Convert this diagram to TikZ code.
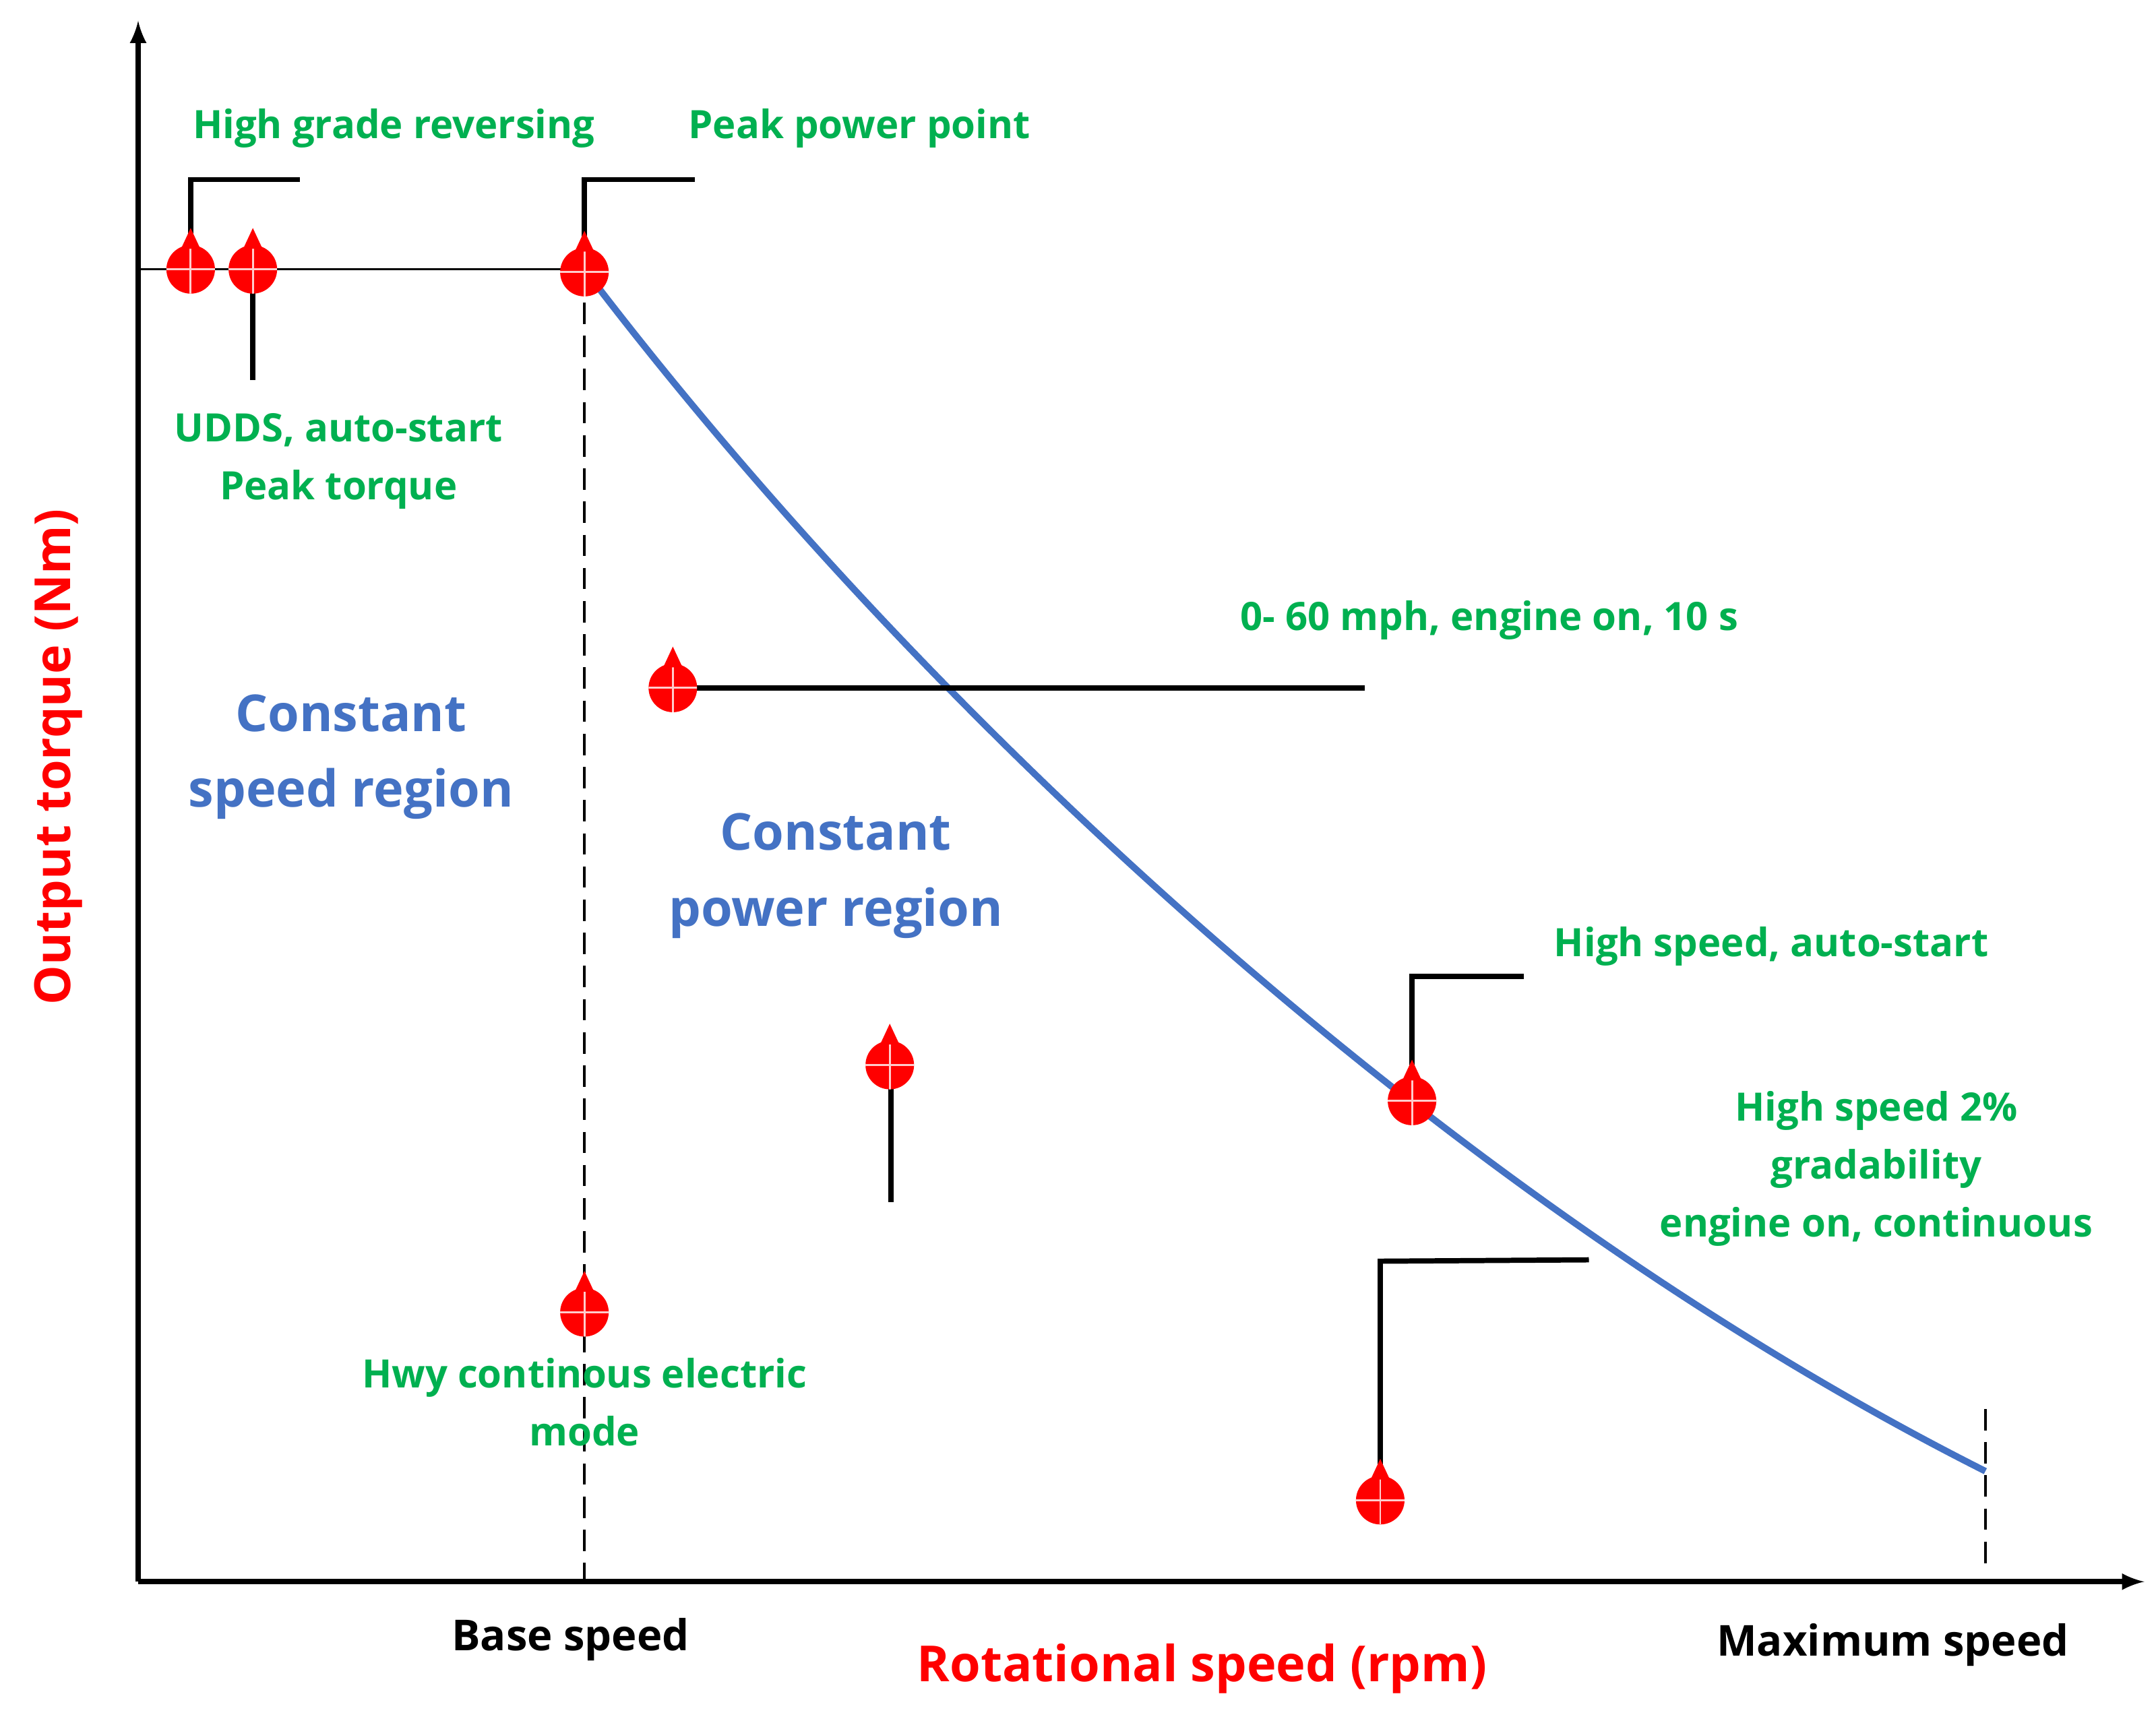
\documentclass[tikz,border=0pt]{standalone}
\usepackage{fontspec}
\usetikzlibrary{calc}
\setmainfont{Open Sans}
\definecolor{gr}{RGB}{0,176,80}
\definecolor{bl}{RGB}{68,114,196}
\begin{document}
\begin{tikzpicture}[x=0.0205cm,y=-0.0205cm,
  g/.style={text=gr,font=\bfseries\fontsize{16.5}{24.5}\selectfont,align=center},
  b/.style={text=bl,font=\bfseries\fontsize{21.5}{32}\selectfont,align=center},
  lead/.style={line width=2.2pt,black},
  mk/.style={circle,fill=red,inner sep=0pt,minimum size=0.72cm,
    path picture={\draw[white!80!red,line width=0.8pt]
      (path picture bounding box.north) -- (path picture bounding box.south)
      (path picture bounding box.west) -- (path picture bounding box.east);}}]
\useasboundingbox (0,0) rectangle (1560.5,1245.4);
\newcommand\marker[2]{\node[mk] (#1) at #2 {};
  \fill[red] ($(#1.north)+(-7,3)$) -- ($(#1.north)+(0,-12)$) -- ($(#1.north)+(7,3)$) -- cycle;}
% axes
\coordinate (O) at (100,1145);
\coordinate (Ytop) at (100,15);
\coordinate (Xend) at (1552,1145);
\draw[line width=2.2pt,-latex] (O) -- (Ytop);
\draw[line width=2.2pt,-latex] (O) -- (Xend);
\coordinate (P) at (423,195);
\coordinate (L) at (100,195);
\draw[line width=0.9pt] (L) -- (P);
\coordinate (Pb) at (423,1145);
\draw[line width=1.1pt,dash pattern=on 9pt off 5pt] (P) -- (Pb);
\coordinate (M1) at (1437,1020);
\coordinate (M2) at (1437,1132);
\draw[line width=1.1pt,dash pattern=on 9pt off 5pt] (M1) -- (M2);
\coordinate (E) at (1437,1065);
\draw[bl,line width=2.8pt] (P) .. controls (670,520) and (1050,870) .. (E);
% leaders
\coordinate (a1) at (138,130); \coordinate (a2) at (217,130);
\coordinate (c1) at (423,130); \coordinate (c2) at (503,130);
\coordinate (b1) at (183,275);
\coordinate (d1) at (988,498);
\coordinate (e1) at (645,870);
\coordinate (f1) at (1022,707); \coordinate (f2) at (1103,707);
\coordinate (h1) at (999,913); \coordinate (h2) at (1150,912);
\draw[lead] (138,180) -- (a1) -- (a2);
\draw[lead] (423,180) -- (c1) -- (c2);
\draw[lead] (183,195) -- (b1);
\draw[lead] (487,498) -- (d1);
\draw[lead] (645,771) -- (e1);
\draw[lead] (1022,780) -- (f1) -- (f2);
\draw[lead] (999,1070) -- (h1) -- (h2);
% markers
\marker{m1}{(138,195)}
\marker{m2}{(183,195)}
\marker{m3}{(423,197)}
\marker{m4}{(487,498)}
\marker{m5}{(644,771)}
\marker{m6}{(1022,797)}
\marker{m7}{(423,950)}
\marker{m8}{(999,1086)}
% texts
\node[g] (t1) at (285,93) {High grade reversing};
\node[g] (t2) at (622,93) {Peak power point};
\node[g] (t3) at (245,334) {UDDS, auto-start\\Peak torque};
\node[b] (t4) at (254,548) {Constant\\speed region};
\node[g] (t5) at (1078,449) {0- 60 mph, engine on, 10 s};
\node[b] (t6) at (605,634) {Constant\\power region};
\node[g] (t7) at (1282,685) {High speed, auto-start};
\node[g] (t8) at (1358,846) {High speed 2\%\\gradability\\engine on, continuous};
\node[g] (t9) at (423,1015) {Hwy continous electric\\mode};
\node[font=\bfseries\fontsize{18}{22}\selectfont] (t10) at (413,1187) {Base speed};
\node[font=\bfseries\fontsize{18}{22}\selectfont] (t11) at (1370,1191) {Maximum speed};
\node[text=red,font=\bfseries\fontsize{21}{26}\selectfont] (t12) at (870,1208) {Rotational speed (rpm)};
\node[text=red,font=\bfseries\fontsize{21}{26}\selectfont,rotate=90] (t13) at (42,548) {Output torque (Nm)};
\end{tikzpicture}
\end{document}
